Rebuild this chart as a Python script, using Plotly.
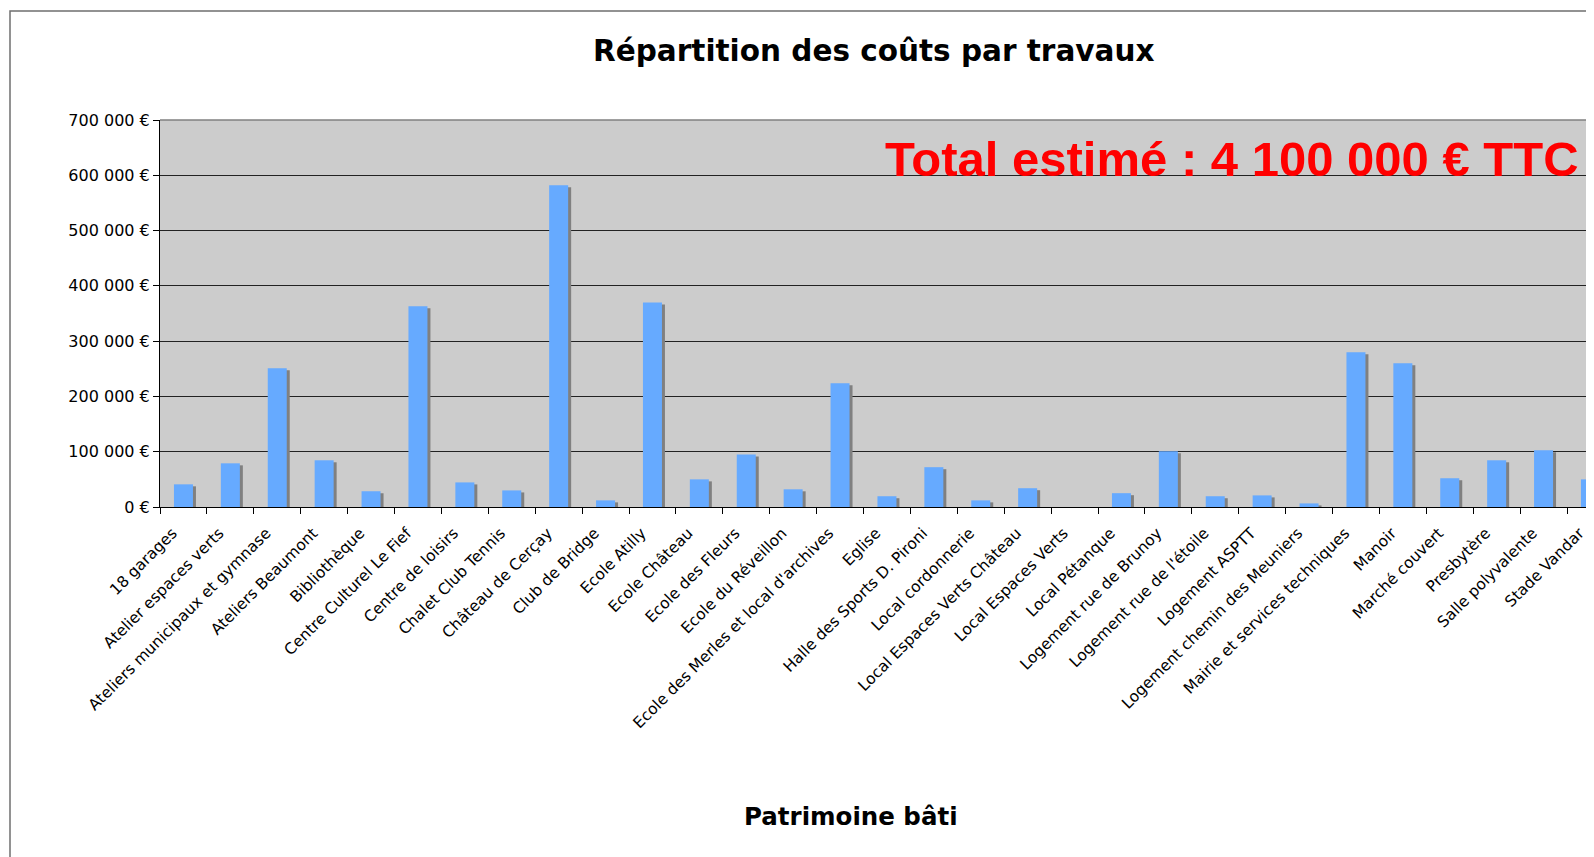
import plotly.graph_objects as go

# ---------------------------------------------------------------------
# Data (HT values in €)
# ---------------------------------------------------------------------
categories = [
    "18 garages",
    "Atelier espaces verts",
    "Ateliers municipaux et gymnase",
    "Ateliers Beaumont",
    "Bibliothèque",
    "Centre Culturel Le Fief",
    "Centre de loisirs",
    "Chalet Club Tennis",
    "Château de Cerçay",
    "Club de Bridge",
    "Ecole Atilly",
    "Ecole Château",
    "Ecole des Fleurs",
    "Ecole du Réveillon",
    "Ecole des Merles et local d'archives",
    "Eglise",
    "Halle des Sports D. Pironi",
    "Local cordonnerie",
    "Local Espaces Verts Château",
    "Local Espaces Verts",
    "Local Pétanque",
    "Logement rue de Brunoy",
    "Logement rue de l'étoile",
    "Logement ASPTT",
    "Logement chemin des Meuniers",
    "Mairie et services techniques",
    "Manoir",
    "Marché couvert",
    "Presbytère",
    "Salle polyvalente",
    "Stade Vandar",
]

costs = [
    41000, 79000, 251000, 84500, 28500, 363000, 44500, 30000, 582000, 12000,
    370000, 50000, 95000, 32000, 224000, 19500, 72000, 12000, 34000, 0,
    25000, 101000, 19500, 21000, 6500, 280000, 260000, 52000, 84500, 102500,
    50000,
]

y_tickvals = [0, 100000, 200000, 300000, 400000, 500000, 600000, 700000]
y_ticktext = ["0 €", "100 000 €", "200 000 €", "300 000 €",
              "400 000 €", "500 000 €", "600 000 €", "700 000 €"]

title_text = "<b>Répartition des coûts par travaux</b>"
xaxis_text = "<b>Patrimoine bâti</b>"
total_text = "<b>Total estimé : 4 100 000 € TTC</b>"

# ---------------------------------------------------------------------
# Geometry of the original (cropped) Excel chart, in window pixels.
# The page body has an 8px margin, so the figure starts at (8, 8).
# ---------------------------------------------------------------------
BODY = 8
WIN_W, WIN_H = 1594, 857
W, H = WIN_W - BODY, WIN_H - BODY
PLOT_L, PLOT_T, PLOT_B = 160 - BODY, 120 - BODY, 506.7 - BODY
CAT_W = 46.9                      # pixels per category
PLOT_W = W - PLOT_L
PLOT_H = PLOT_B - PLOT_T
Y_MAX = 700000

BAR_W = 0.405                     # in category units
SHADOW_DX = 3 / CAT_W             # shadow shifted 3px to the right
SHADOW_DY = 2 / PLOT_H * Y_MAX    # ...and 2px down


def px_x(p):
    """window pixel x -> paper x"""
    return (p - BODY - PLOT_L) / PLOT_W


def px_y(p):
    """window pixel y -> paper y"""
    return (PLOT_B - (p - BODY)) / PLOT_H


FONT = "DejaVu Sans, Verdana, sans-serif"

fig = go.Figure()

# gray drop shadow first, so the blue bar covers it
fig.add_trace(
    go.Bar(
        x=categories,
        y=costs,
        base=-SHADOW_DY,
        width=BAR_W,
        offset=-BAR_W / 2 + SHADOW_DX,
        marker=dict(color="#808080", line=dict(width=0)),
        hoverinfo="skip",
        showlegend=False,
    )
)

fig.add_trace(
    go.Bar(
        x=categories,
        y=costs,
        width=BAR_W,
        offset=-BAR_W / 2,
        marker=dict(color="#66aaff", line=dict(width=0)),
        hovertemplate="%{x}<br>%{y:,.0f} €<extra></extra>",
        showlegend=False,
    )
)

fig.update_layout(
    width=W,
    height=H,
    margin=dict(l=PLOT_L, r=0, t=PLOT_T, b=H - PLOT_B, autoexpand=False),
    paper_bgcolor="white",
    plot_bgcolor="#cccccc",
    barmode="overlay",
    font=dict(family=FONT, size=15, color="black"),
    xaxis=dict(
        type="category",
        categoryorder="array",
        categoryarray=categories,
        range=[-0.5, -0.5 + PLOT_W / CAT_W],
        tickangle=-45,
        ticks="outside",
        tickson="boundaries",
        ticklen=6,
        tickcolor="black",
        ticklabelstandoff=10,
        ticklabelshift=-11,
        showline=True,
        linecolor="black",
        linewidth=1,
        showgrid=False,
        automargin=False,
        tickfont=dict(family=FONT, size=15.5, color="black"),
    ),
    yaxis=dict(
        range=[0, Y_MAX],
        tickvals=y_tickvals,
        ticktext=y_ticktext,
        ticks="outside",
        ticklen=6,
        tickcolor="black",
        showline=True,
        linecolor="black",
        linewidth=1,
        showgrid=True,
        gridcolor="#222222",
        gridwidth=1,
        zeroline=False,
        automargin=False,
        tickfont=dict(family=FONT, size=16, color="black"),
    ),
    shapes=[
        # outer chart frame (cut off on the right and bottom)
        dict(type="rect", xref="paper", yref="paper",
             x0=px_x(10), x1=px_x(WIN_W + 50), y0=px_y(WIN_H + 50), y1=px_y(11),
             line=dict(color="#6f6f6f", width=1.5), layer="above"),
        # plot area top border
        dict(type="line", xref="paper", yref="paper",
             x0=0, x1=1, y0=1, y1=1,
             line=dict(color="#808080", width=1.5), layer="above"),
    ],
    annotations=[
        dict(text=title_text, xref="paper", yref="paper",
             x=px_x(873), y=px_y(51), xanchor="center", yanchor="middle",
             showarrow=False, font=dict(family=FONT, size=29.5, color="black")),
        dict(text=xaxis_text, xref="paper", yref="paper",
             x=px_x(851), y=px_y(816), xanchor="center", yanchor="middle",
             showarrow=False, font=dict(family=FONT, size=24.5, color="black")),
        dict(text=total_text, xref="paper", yref="paper",
             x=px_x(1581), y=px_y(159), xanchor="right", yanchor="middle",
             showarrow=False,
             font=dict(family="Liberation Sans, Arial, sans-serif", size=49, color="#ff0000")),
    ],
)

fig.write_html("out.html")
